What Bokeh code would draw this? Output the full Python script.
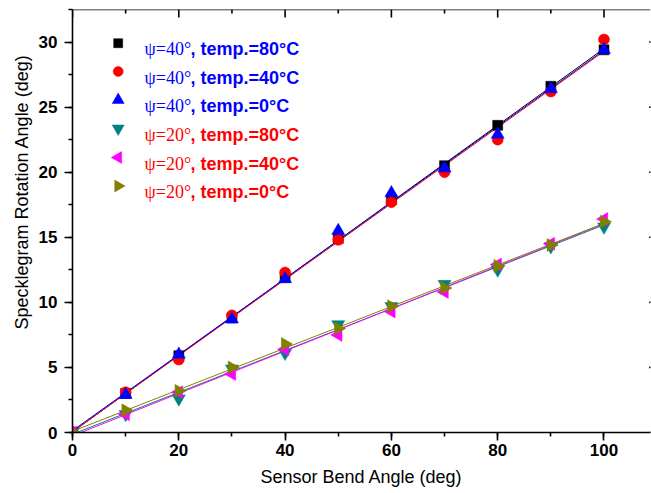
import numpy as np
from bokeh.plotting import figure
from bokeh.models import Range1d, Label, Title, SingleIntervalTicker, Span
from bokeh.embed import file_html
from bokeh.resources import INLINE

# ---- data ----
bend_angle = [0, 10, 20, 30, 40, 50, 60, 70, 80, 90, 100]
psi40_80C = [0, 3.0, 5.9, 8.8, 11.9, 14.9, 17.9, 20.5, 23.6, 26.6, 29.4]
psi40_40C = [0, 3.1, 5.6, 9.0, 12.3, 14.8, 17.7, 20.0, 22.5, 26.2, 30.2]
psi40_0C = [0, 2.9, 6.0, 8.7, 11.8, 15.5, 18.4, 20.3, 22.9, 26.4, 29.4]
psi20_80C = [0, 1.4, 2.6, 4.9, 6.1, 8.3, 9.7, 11.4, 12.5, 14.3, 15.8]
psi20_40C = [0, 1.4, 3.1, 4.5, 6.4, 7.5, 9.3, 10.8, 12.9, 14.5, 16.4]
psi20_0C = [0, 1.7, 3.2, 5.0, 6.8, 8.0, 9.7, 11.1, 12.8, 14.4, 16.2]

psi_labels = ["ψ=40°", "ψ=40°", "ψ=40°", "ψ=20°", "ψ=20°", "ψ=20°"]
temp_labels = [", temp.=80°C", ", temp.=40°C", ", temp.=0°C",
               ", temp.=80°C", ", temp.=40°C", ", temp.=0°C"]
x_ticks = [0, 20, 40, 60, 80, 100]
y_ticks = [0, 5, 10, 15, 20, 25, 30]

series = [psi40_80C, psi40_40C, psi40_0C, psi20_80C, psi20_40C, psi20_0C]
colors = ["#000000", "#FF0000", "#0000FF", "#008080", "#FF00FF", "#808000"]
markers = ["square", "circle", "triangle", "inverted_triangle", "triangle", "triangle"]
angles = [0, 0, 0, 0, np.pi / 2, -np.pi / 2]
sizes = [10, 11, 13, 13, 13, 13]
leg_sizes = [9, 10, 12, 12, 12, 12]
text_colors = ["#0000FF"] * 3 + ["#FF0000"] * 3

SANS = "Liberation Sans"
SERIF = "Liberation Serif"

LEFT, TOP = 72, 9
FW, FH = 578, 423
X_END, Y_END = 108.75, 32.5
X_AXIS_END = 110  # right axis lies just outside the visible area

p = figure(frame_width=FW, frame_height=FH, output_backend="svg", toolbar_location=None,
           x_range=Range1d(0, X_END), y_range=Range1d(0, Y_END),
           min_border_left=LEFT, min_border_right=1, min_border_top=TOP, min_border_bottom=61)
p.extra_x_ranges = {"px": Range1d(0, FW)}
p.extra_y_ranges = {"px": Range1d(0, FH)}
p.xgrid.visible = False
p.ygrid.visible = False
p.outline_line_color = None
p.background_fill_color = "white"
p.border_fill_color = "white"

p.xaxis.ticker = SingleIntervalTicker(interval=20, num_minor_ticks=2)
p.yaxis.ticker = SingleIntervalTicker(interval=5, num_minor_ticks=2)

for ax in (p.xaxis[0], p.yaxis[0]):
    ax.axis_line_width = 1.6
    ax.major_tick_line_width = 1.6
    ax.minor_tick_line_width = 1.6
    ax.major_tick_out = 8
    ax.major_tick_in = 0
    ax.minor_tick_out = 4
    ax.minor_tick_in = 0
    ax.major_label_text_font = SANS
    ax.major_label_text_font_style = "bold"
    ax.major_label_text_font_size = "17px"
    ax.major_label_text_color = "black"
    ax.axis_label_text_font = SANS
    ax.axis_label_text_font_style = "normal"
    ax.axis_label_text_font_size = "18px"
    ax.axis_label_text_color = "black"

p.xaxis.axis_label = "Sensor Bend Angle (deg)"
p.xaxis.major_label_standoff = 3
p.xaxis.axis_label_standoff = 8
p.yaxis.major_label_standoff = 7

# y axis title (placed off-centre like the reference)
p.add_layout(Title(text="Specklegram Rotation Angle (deg)", align="left", offset=103,
                   text_font=SANS, text_font_size="18px", text_font_style="normal",
                   text_color="black", standoff=8), "left")

# top frame line
p.add_layout(Span(location=Y_END, dimension="width", line_color="black", line_width=1.6))

# inward ticks on top and right frame edges
minor_x = [v + 10 for v in x_ticks]
minor_y = [v + 2.5 for v in y_ticks]
p.ray(x=x_ticks, y=Y_END, length=8, length_units="screen", angle=-np.pi / 2,
      line_color="black", line_width=1.6)
p.ray(x=minor_x, y=Y_END, length=4, length_units="screen", angle=-np.pi / 2,
      line_color="black", line_width=1.6)
p.ray(x=X_AXIS_END, y=y_ticks, length=8, length_units="screen", angle=np.pi,
      line_color="black", line_width=1.6)
p.ray(x=X_AXIS_END, y=minor_y, length=4, length_units="screen", angle=np.pi,
      line_color="black", line_width=1.6)

# linear fits
xs = np.array([min(bend_angle), max(bend_angle)], dtype=float)
for vals, c in zip(series, colors):
    slope, intercept = np.polyfit(bend_angle, vals, 1)
    p.line(xs, intercept + slope * xs, line_color=c, line_width=1)

for vals, c, m, a, s in zip(series, colors, markers, angles, sizes):
    p.scatter(bend_angle, vals, marker=m, size=s, angle=a,
              fill_color=c, line_color=c, line_width=0.5)

# legend (pixel space inside the frame)
row_y = [42.7, 71, 99.5, 128, 157, 185.5]
mark_x = 117.7 - LEFT
for i in range(6):
    yc = FH - (row_y[i] - TOP)
    p.scatter([mark_x], [yc], marker=markers[i], size=leg_sizes[i], angle=angles[i],
              fill_color=colors[i], line_color=colors[i], line_width=0.5,
              x_range_name="px", y_range_name="px")
    p.add_layout(Label(x=144 - LEFT, y=yc - 6, x_units="screen", y_units="screen",
                       text=psi_labels[i], text_font=SERIF, text_font_size="18px",
                       text_color=text_colors[i], text_baseline="alphabetic"))
    p.add_layout(Label(x=190 - LEFT, y=yc - 6, x_units="screen", y_units="screen",
                       text=temp_labels[i], text_font=SANS, text_font_style="bold",
                       text_font_size="18px",
                       text_color=text_colors[i], text_baseline="alphabetic"))

open("out.html", "w").write(file_html(p, INLINE))
